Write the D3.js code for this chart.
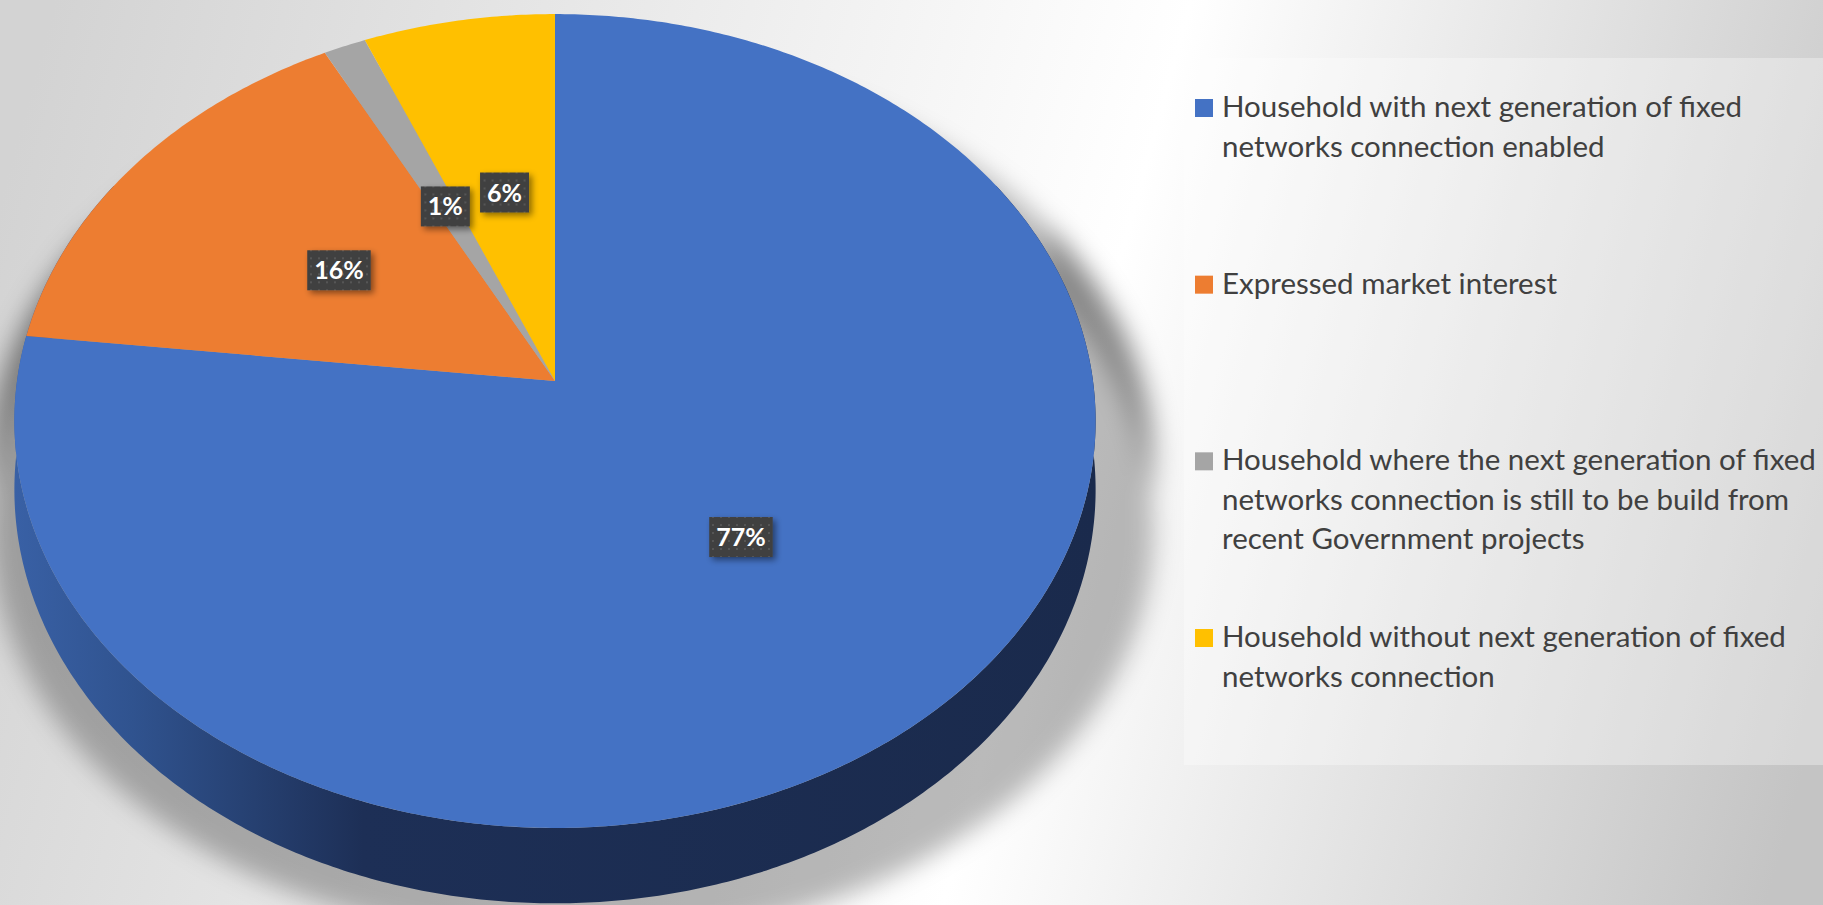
<!DOCTYPE html>
<html>
<head>
<meta charset="utf-8">
<script src="https://cdn.jsdelivr.net/npm/d3@7"></script>
<style>
  html, body { margin: 0; padding: 0; overflow: hidden; }
  svg { display: block; }
</style>
</head>
<body>
<svg id="chart"></svg>
<script>
const width = 1823;
const height = 905;

// data
const categories = [
  "Household with next generation of fixed\nnetworks connection enabled",
  "Expressed market interest",
  "Household where the next generation of fixed\nnetworks connection is still to be build from\nrecent Government projects",
  "Household without next generation of fixed\nnetworks connection"
];
const values = [76.8, 15.5, 1.4, 6.3];
const labels = ["77%", "16%", "1%", "6%"];
const colors = ["#4472c4", "#ed7d31", "#a5a5a5", "#ffc000"];

// perspective pie geometry
const apex = {x: 555, y: 381};
const R = 538, S = 403, K = 0.0983, D = 68;

const proj = (a, r, drop) => {
  const X = r * Math.sin(a), Z = r * Math.cos(a);
  const w = 1 + K * Z;
  return [apex.x + X * R / w, apex.y - Z * S / w + (drop ? D / w : 0)];
};
const arcPts = (a0, a1, drop) => {
  const n = Math.max(2, Math.ceil(Math.abs(a1 - a0) / 0.01));
  return d3.range(n + 1).map(i => proj(a0 + (a1 - a0) * i / n, 1, drop));
};
const line = d3.line();

const svg = d3.select('#chart')
  .attr('width', width)
  .attr('height', height);

const defs = svg.append('defs');

const bg = defs.append('linearGradient').attr('id', 'bg')
  .attr('gradientUnits', 'userSpaceOnUse')
  .attr('x1', 0).attr('y1', 200).attr('x2', width).attr('y2', 700);
bg.append('stop').attr('offset', 0).attr('stop-color', '#d3d3d3');
bg.append('stop').attr('offset', 0.58).attr('stop-color', '#ffffff');
bg.append('stop').attr('offset', 1).attr('stop-color', '#c4c4c4');

const side = defs.append('linearGradient').attr('id', 'side')
  .attr('gradientUnits', 'userSpaceOnUse')
  .attr('x1', 0).attr('y1', 0).attr('x2', 1100).attr('y2', 0);
side.append('stop').attr('offset', 0).attr('stop-color', '#3a62a8');
side.append('stop').attr('offset', 0.12).attr('stop-color', '#30538f');
side.append('stop').attr('offset', 0.33).attr('stop-color', '#1d2f56');
side.append('stop').attr('offset', 1).attr('stop-color', '#1a2a4c');

defs.append('filter').attr('id', 'blur')
  .attr('x', '-20%').attr('y', '-20%').attr('width', '140%').attr('height', '140%')
  .append('feGaussianBlur').attr('stdDeviation', 12);

defs.append('filter').attr('id', 'lblShadow')
  .attr('x', '-30%').attr('y', '-30%').attr('width', '160%').attr('height', '160%')
  .append('feDropShadow').attr('dx', 3).attr('dy', 3).attr('stdDeviation', 3)
  .attr('flood-color', '#000').attr('flood-opacity', 0.45);

const dots = defs.append('pattern').attr('id', 'dots')
  .attr('patternUnits', 'userSpaceOnUse').attr('width', 8).attr('height', 8);
dots.append('rect').attr('width', 8).attr('height', 8).attr('fill', '#404040');
dots.append('rect').attr('x', 3).attr('y', 3).attr('width', 2).attr('height', 2).attr('fill', '#565656');

svg.append('rect').attr('width', width).attr('height', height).attr('fill', 'url(#bg)');

// legend panel
svg.append('rect')
  .attr('x', 1184).attr('y', 58)
  .attr('width', width - 1184).attr('height', 707)
  .attr('fill', '#ffffff').attr('fill-opacity', 0.32);

// pie
const pie = d3.pie().sort(null).value(d => d);
const arcs = pie(values);

const topOutline = line(arcPts(0, 2 * Math.PI, false)) + 'Z';
const sideOutline = line(arcPts(0.33 * Math.PI, 1.67 * Math.PI, false)
  .concat(arcPts(1.67 * Math.PI, 0.33 * Math.PI, true))) + 'Z';

const shadow = svg.append('g')
  .attr('filter', 'url(#blur)')
  .attr('transform', `translate(${apex.x}, ${apex.y}) scale(1.075, 1.0) translate(${-apex.x + 16}, ${-apex.y + 40})`);
shadow.append('path').attr('d', topOutline).attr('fill', '#000').attr('fill-opacity', 0.27);
shadow.append('path').attr('d', sideOutline).attr('fill', '#000').attr('fill-opacity', 0.27);

svg.append('path').attr('d', sideOutline).attr('fill', 'url(#side)');

svg.append('g').selectAll('path').data(arcs)
  .enter().append('path')
    .attr('d', d => line([[apex.x, apex.y]].concat(arcPts(d.startAngle, d.endAngle, false))) + 'Z')
    .attr('fill', (d, i) => colors[i]);

// data labels
const lbl = svg.append('g').selectAll('g').data(arcs)
  .enter().append('g')
    .attr('transform', d => {
      const p = proj((d.startAngle + d.endAngle) / 2, 0.5, false);
      return `translate(${p[0]}, ${p[1]})`;
    });

lbl.append('text')
  .attr('text-anchor', 'middle')
  .attr('dy', '0.36em')
  .attr('fill', '#ffffff')
  .style('font-family', 'Lato, "Open Sans", sans-serif')
  .style('font-weight', 'bold')
  .style('font-size', '25px')
  .text((d, i) => labels[i]);

lbl.each(function() {
  const g = d3.select(this);
  const w = g.select('text').node().getComputedTextLength() + 14;
  g.insert('rect', 'text')
    .attr('x', -w / 2).attr('y', -20)
    .attr('width', w).attr('height', 40)
    .attr('fill', 'url(#dots)')
    .attr('filter', 'url(#lblShadow)');
});

// legend
const legendY = d3.scalePoint()
  .domain(categories)
  .range([117, 647]);

const legend = svg.append('g').selectAll('g').data(categories)
  .enter().append('g')
    .attr('transform', d => `translate(1195, ${legendY(d)})`);

legend.append('rect')
  .attr('x', 0).attr('y', -18)
  .attr('width', 18).attr('height', 18)
  .attr('fill', (d, i) => colors[i]);

legend.append('text')
  .attr('fill', '#404040')
  .style('font-family', 'Lato, "Open Sans", sans-serif')
  .style('font-size', '29.5px')
  .selectAll('tspan').data(d => d.split('\n'))
  .enter().append('tspan')
    .attr('x', 27)
    .attr('y', (d, i) => i * 39.5)
    .text(d => d);
</script>
</body>
</html>
